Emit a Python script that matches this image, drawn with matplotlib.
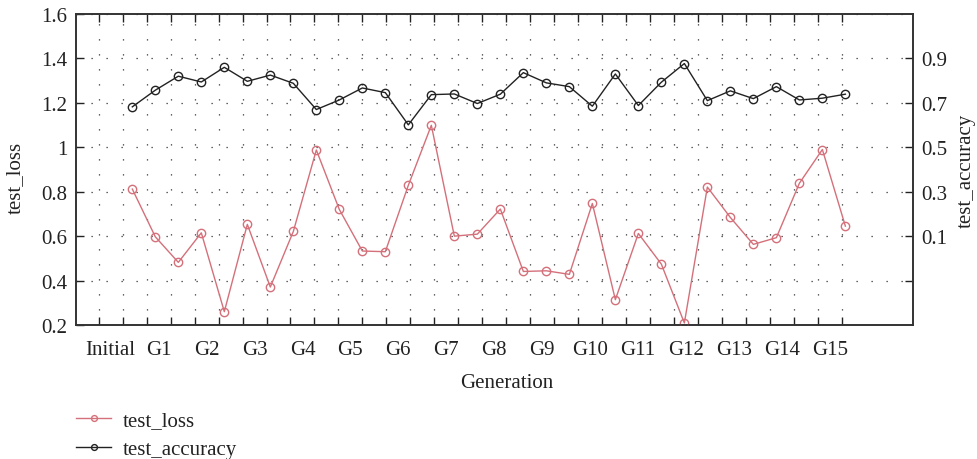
import matplotlib
matplotlib.use("Agg")
import matplotlib.pyplot as plt
import numpy as np

plt.rcParams['font.family'] = ['Liberation Serif', 'DejaVu Serif']

# values, one per evaluation step
test_loss = [0.812, 0.597, 0.482, 0.615, 0.260, 0.653, 0.371, 0.621, 0.988,
             0.720, 0.533, 0.530, 0.829, 1.099, 0.600, 0.609, 0.722, 0.441,
             0.444, 0.428, 0.747, 0.314, 0.612, 0.474, 0.209, 0.821, 0.684,
             0.563, 0.593, 0.838, 0.990, 0.645]
test_accuracy = [0.682, 0.757, 0.820, 0.794, 0.860, 0.797, 0.825, 0.788, 0.670,
                 0.713, 0.767, 0.746, 0.601, 0.737, 0.740, 0.697, 0.739, 0.836,
                 0.790, 0.773, 0.685, 0.830, 0.688, 0.793, 0.877, 0.710, 0.754,
                 0.719, 0.773, 0.713, 0.721, 0.739]
gen_labels = ['Initial'] + ['G%d' % i for i in range(1, 16)]
loss_ticks = [0.2, 0.4, 0.6, 0.8, 1.0, 1.2, 1.4, 1.6]
loss_ticklabels = ['0.2', '0.4', '0.6', '0.8', '1', '1.2', '1.4', '1.6']
acc_ticks = [-0.1, 0.1, 0.3, 0.5, 0.7, 0.9]
acc_ticklabels = ['', '0.1', '0.3', '0.5', '0.7', '0.9']

red = '#d4707a'
dark = '#222222'
fs = 15

W, H = 978, 460
fig = plt.figure(figsize=(W / 100, H / 100), dpi=100)
ax = fig.add_axes([76 / W, 1 - 326 / H, (913 - 76) / W, (326 - 15) / H])
ax2 = ax.twinx()

x = np.arange(len(test_loss))
# tick grid runs a little wider than the point spacing in the original
step = 23.97 / 23.0
tick_pos = -1.461 + step * np.arange(32)
label_pos = (tick_pos[0::2] + tick_pos[1::2]) / 2

l1, = ax.plot(x, test_loss, color=red, lw=1.0, marker='o', ms=6,
              mfc='none', mec=red, mew=1.0, label='test_loss', zorder=3)
l2, = ax2.plot(x, test_accuracy, color=dark, lw=1.0, marker='o', ms=6,
               mfc='none', mec=dark, mew=1.0, label='test_accuracy', zorder=3)

ax.set_xlim(-2.448, 33.94)
ax.set_ylim(0.2, 1.6)
ax2.set_ylim(-0.3, 1.1)

ax.set_yticks(loss_ticks)
ax.set_yticklabels(loss_ticklabels)
ax2.set_yticks(acc_ticks)
ax2.set_yticklabels(acc_ticklabels)

ax.set_xticks(tick_pos)
ax.set_xticklabels([])
ax.set_xticks(label_pos, minor=True)
ax.set_xticklabels(gen_labels, minor=True)

ax.tick_params(axis='x', which='major', direction='in', length=6, width=1.0,
               top=True, bottom=True, color=dark)
ax.tick_params(axis='x', which='minor', length=0, pad=11, labelsize=fs,
               labelcolor=dark)
ax.tick_params(axis='y', direction='in', length=6, width=1.0, labelsize=fs,
               labelcolor=dark, color=dark, pad=6)
ax2.tick_params(axis='y', direction='in', length=6, width=1.0, labelsize=fs,
                labelcolor=dark, color=dark, pad=6)

ax.grid(True, which='major', axis='both', color='#333333',
        linestyle=(0, (1, 11)), linewidth=0.9)

for a in (ax, ax2):
    for s in a.spines.values():
        s.set_color('#333333')
        s.set_linewidth(1.2)

ax.set_xlabel('Generation', fontsize=fs, color=dark)
ax.xaxis.set_label_coords((507 - 76) / (913 - 76), -0.155)
ax.set_ylabel('test_loss', fontsize=fs, color=dark)
ax.yaxis.set_label_coords(-0.061, 0.476)
ax2.set_ylabel('test_accuracy', fontsize=fs, color=dark)
ax2.yaxis.set_label_coords(1.052, 0.5)

fig.legend(handles=[l1, l2], loc='upper left',
           bbox_to_anchor=(68 / W, 1 - 403 / H), frameon=False,
           borderaxespad=0, fontsize=fs, handlelength=1.65,
           handletextpad=0.6, labelspacing=0.45, markerscale=0.7,
           labelcolor=dark)

fig.savefig('out.png', dpi=100)
